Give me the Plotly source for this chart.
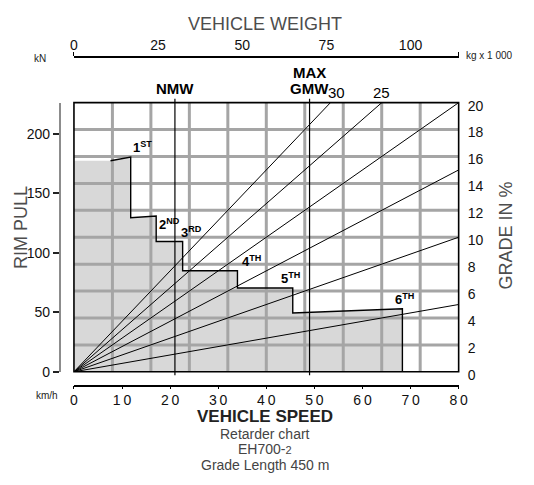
import plotly.graph_objects as go

# Retarder curve: vehicle speed (km/h) vs rim pull (kN), gears 1st to 6th
speed_kmh = [7.6, 11.8, 11.8, 17.1, 17.1, 22.6, 22.6, 34.0, 34.0, 45.5, 45.5, 68.3, 68.3]
rim_pull_kn = [177.5, 180.5, 129.5, 131.0, 109.5, 109.5, 85.0, 85.0, 70.5, 70.5, 49.5, 53.0, 0.0]

# Gear labels and the curve point each one is attached to
gear_text = ["1<sup>ST</sup>", "2<sup>ND</sup>", "3<sup>RD</sup>", "4<sup>TH</sup>", "5<sup>TH</sup>", "6<sup>TH</sup>"]
gear_point = [1, 3, 5, 7, 9, 11]

# Grade lines (%)
grades = [5, 10, 15, 20, 25, 30]
grade_labels_top = [30, 25]

# Vehicle weights (t)
nmw_t = 30
gmw_t = 70

# Axis scales
speed_ticks = [0, 10, 20, 30, 40, 50, 60, 70, 80]
speed_ticktext = ["0", "1\u20090", "2\u20090", "3\u20090", "4\u20090", "5\u20090", "6\u20090", "7\u20090", "8\u20090"]
weight_ticks = [0, 25, 50, 75, 100]
pull_ticks = [0, 50, 100, 150, 200]
grade_ticks = [0, 2, 4, 6, 8, 10, 12, 14, 16, 18, 20]
grid_speed = [8, 16, 24, 32, 40, 48, 56, 64, 72]
grid_grade = [2, 4, 6, 8, 10, 12, 14, 16, 18]

SPEED_MAX = 80
PULL_MAX = 226.3
GRADE_MAX = 20
WEIGHT_MAX = 114.3

W, H = 534, 485
FONT = "Liberation Sans"
X_DOM = [71.7 / W, 466 / W]
Y_DOM = [(H - 379.3) / H, (H - 101) / H]


def py(px):
    return (H - px) / H


def pxx(px):
    return px / W


fig = go.Figure()

# Shaded retarder area under the curve
fill_x = [0, 0] + speed_kmh
fill_y = [0, rim_pull_kn[0]] + rim_pull_kn
fig.add_trace(go.Scatter(x=fill_x, y=fill_y, mode="lines", fill="toself",
                         fillcolor="#d8d8d8", line=dict(width=0),
                         hoverinfo="skip", showlegend=False, yaxis="y"))

# Grid (drawn above the shading)
gx, gy = [], []
for s in grid_speed:
    gx += [s, s, None]
    gy += [0, GRADE_MAX, None]
for g in grid_grade:
    gx += [0, SPEED_MAX, None]
    gy += [g, g, None]
fig.add_trace(go.Scatter(x=gx, y=gy, mode="lines", line=dict(color="#a5a5a5", width=3),
                         hoverinfo="skip", showlegend=False, yaxis="y2"))

# Grade lines from the origin
for g in grades:
    fig.add_trace(go.Scatter(x=[0, SPEED_MAX], y=[0, g], mode="lines",
                             line=dict(color="black", width=1),
                             hoverinfo="skip", showlegend=False, yaxis="y2"))

# Retarder curve
fig.add_trace(go.Scatter(x=speed_kmh, y=rim_pull_kn, mode="lines",
                         line=dict(color="black", width=1.4),
                         hoverinfo="skip", showlegend=False, yaxis="y3"))

annotations = []

# Gear labels
gear_anchor = [("left", "bottom", 0, 0), ("left", "top", 1, 2), ("left", "bottom", -4, 0),
               ("left", "bottom", 3, 0), ("center", "bottom", -2, 0), ("center", "bottom", 2, 0)]
for txt, idx, (xa, ya, xs, ys) in zip(gear_text, gear_point, gear_anchor):
    annotations.append(dict(x=speed_kmh[idx], y=rim_pull_kn[idx], xref="x", yref="y3",
                            text="<b>" + txt + "</b>", showarrow=False,
                            xanchor=xa, yanchor=ya, xshift=xs, yshift=ys,
                            font=dict(family=FONT, size=13, color="black")))

# Grade values where steep lines leave the top of the grid
for g, xs in zip(grade_labels_top, [6, 0]):
    annotations.append(dict(x=SPEED_MAX * GRADE_MAX / g, y=GRADE_MAX, xref="x", yref="y2",
                            text=str(g), showarrow=False, xanchor="center", yanchor="bottom",
                            xshift=xs, yshift=0,
                            font=dict(family=FONT, size=15, color="black")))

# Weight markers
annotations.append(dict(x=nmw_t, y=py(86.5), xref="x2", yref="paper", text="<b>NMW</b>",
                        showarrow=False, xanchor="center", yanchor="middle",
                        font=dict(family=FONT, size=15, color="black")))
annotations.append(dict(x=gmw_t, y=py(70), xref="x2", yref="paper", text="<b>MAX</b>",
                        showarrow=False, xanchor="center", yanchor="middle", borderpad=0,
                        font=dict(family=FONT, size=15, color="black")))
annotations.append(dict(x=gmw_t, y=py(86.5), xref="x2", yref="paper", text="<b>GMW</b>",
                        showarrow=False, xanchor="center", yanchor="middle", borderpad=0,
                        font=dict(family=FONT, size=15, color="black")))


# Titles and captions
def caption(text, x, y, size, color, xanchor="center", angle=0):
    annotations.append(dict(x=pxx(x), y=py(y), xref="paper", yref="paper", text=text,
                            showarrow=False, xanchor=xanchor, yanchor="middle", textangle=angle,
                            borderpad=0,
                            font=dict(family=FONT, size=size, color=color)))


caption("VEHICLE WEIGHT", 267, 20, 18, "#4d4d4d")
caption("kN", 37, 55, 10, "#222")
caption("kg x 1 000", 472, 52, 10, "#222", xanchor="left")
caption("km/h", 44, 404, 10, "#222")
caption("RIM PULL", 18, 230, 18, "#4d4d4d", angle=-90)
caption("GRADE IN %", 515, 238, 18, "#4d4d4d", angle=-90)
caption("<b>VEHICLE SPEED</b>", 267, 425.5, 17, "#222")
caption("Retarder chart", 267, 443.5, 14, "#444")
caption("EH700-<span style='font-size:11px'>2</span>", 267, 459.5, 14, "#444")
caption("Grade Length 450 m", 267, 475.5, 14, "#444")

shapes = [
    dict(type="rect", xref="x domain", yref="y domain", x0=0, x1=1, y0=0, y1=1,
         line=dict(color="black", width=1.6), layer="above"),
]
for w in (nmw_t, gmw_t):
    shapes.append(dict(type="line", xref="x2", yref="y domain", x0=w, x1=w, y0=-0.013, y1=1.015,
                       line=dict(color="black", width=1.2), layer="above"))

tick_font = dict(family=FONT, size=14, color="#111")

fig.update_layout(
    width=W, height=H, autosize=False,
    margin=dict(l=0, r=0, t=0, b=0),
    paper_bgcolor="white", plot_bgcolor="white",
    showlegend=False,
    annotations=annotations,
    shapes=shapes,
    xaxis=dict(domain=X_DOM, range=[0, SPEED_MAX], anchor="free", position=py(393.5),
               tickmode="array", tickvals=speed_ticks, ticktext=speed_ticktext,
               ticks="outside", ticklen=3, tickcolor="black", tickwidth=1.2,
               ticklabelstandoff=-1,
               showline=True, linecolor="black", linewidth=1.5,
               showgrid=False, zeroline=False, tickfont=tick_font, fixedrange=True),
    xaxis2=dict(domain=X_DOM, range=[0, WEIGHT_MAX], overlaying="x", side="top",
                anchor="free", position=py(53.5),
                tickmode="array", tickvals=weight_ticks, ticks="",
                minor=dict(tickmode="array", tickvals=[0, WEIGHT_MAX], ticks="outside",
                           ticklen=4, tickcolor="black", tickwidth=1.2),
                showline=True, linecolor="black", linewidth=1.5,
                showgrid=False, zeroline=False, tickfont=tick_font),
    yaxis=dict(domain=Y_DOM, range=[0, PULL_MAX], anchor="free", position=pxx(57),
               tickmode="array", tickvals=pull_ticks, ticks="outside", ticklen=6,
               tickcolor="#222", tickwidth=1.5,
               showline=True, linecolor="#8c8c8c", linewidth=1.5,
               showgrid=False, zeroline=False, tickfont=tick_font),
    yaxis2=dict(domain=Y_DOM, range=[0, GRADE_MAX], overlaying="y", side="right", anchor="x",
                tickmode="array", tickvals=grade_ticks, ticks="", ticklabelstandoff=8,
                ticklabelshift=3,
                showline=False, showgrid=False, zeroline=False, tickfont=tick_font),
    yaxis3=dict(domain=Y_DOM, range=[0, PULL_MAX], overlaying="y", anchor="x", visible=False),
)

fig.write_html("out.html")
